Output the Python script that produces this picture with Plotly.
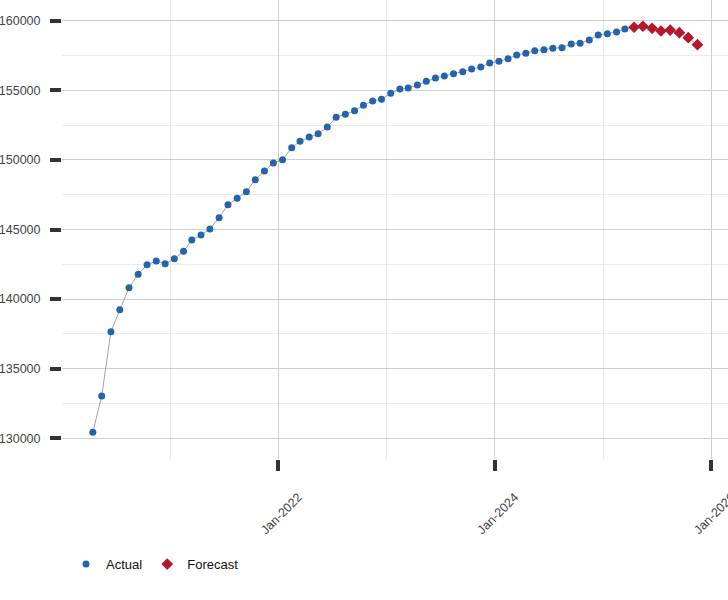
import plotly.graph_objects as go

actual_months = [
    "2020-04", "2020-05", "2020-06", "2020-07", "2020-08", "2020-09", "2020-10", "2020-11", "2020-12",
    "2021-01", "2021-02", "2021-03", "2021-04", "2021-05", "2021-06", "2021-07", "2021-08", "2021-09", "2021-10", "2021-11", "2021-12",
    "2022-01", "2022-02", "2022-03", "2022-04", "2022-05", "2022-06", "2022-07", "2022-08", "2022-09", "2022-10", "2022-11", "2022-12",
    "2023-01", "2023-02", "2023-03", "2023-04", "2023-05", "2023-06", "2023-07", "2023-08", "2023-09", "2023-10", "2023-11", "2023-12",
    "2024-01", "2024-02", "2024-03", "2024-04", "2024-05", "2024-06", "2024-07", "2024-08", "2024-09", "2024-10", "2024-11", "2024-12",
    "2025-01", "2025-02", "2025-03",
]
actual_values = [
    130431, 133040, 137660, 139240, 140820, 141780, 142470, 142740, 142540,
    142900, 143430, 144250, 144600, 145040, 145850, 146780, 147240, 147720, 148580, 149200, 149780,
    150010, 150880, 151340, 151640, 151880, 152360, 153060, 153280, 153530, 153920, 154230, 154350,
    154780, 155090, 155170, 155380, 155650, 155880, 156030, 156190, 156340, 156530, 156670, 156960,
    157080, 157270, 157540, 157660, 157840, 157920, 158020, 158060, 158330, 158380, 158610, 158970,
    159070, 159190, 159400,
]
forecast_months = ["2025-04", "2025-05", "2025-06", "2025-07", "2025-08", "2025-09", "2025-10", "2025-11"]
forecast_values = [159530, 159600, 159450, 159260, 159330, 159140, 158780, 158280]

x_tick_values = ["2022-01-01", "2024-01-01", "2026-01-01"]
x_tick_labels = ["Jan-2022", "Jan-2024", "Jan-2026"]

def mid(m):
    return m + "-15"

ax = [mid(m) for m in actual_months]
fx = [mid(m) for m in forecast_months]

fig = go.Figure()
fig.add_trace(go.Scatter(
    x=ax + fx, y=actual_values + forecast_values, mode="lines",
    line=dict(color="#8a8a8a", width=0.8), showlegend=False, hoverinfo="skip",
))
fig.add_trace(go.Scatter(
    x=ax, y=actual_values, mode="markers", name="Actual",
    marker=dict(color="#2464ad", size=7, symbol="circle"),
))
fig.add_trace(go.Scatter(
    x=fx, y=forecast_values, mode="markers", name="Forecast",
    marker=dict(color="#b5182d", size=9, symbol="diamond"),
))

font = "Liberation Sans, Arial, sans-serif"
fig.update_layout(
    width=728, height=600,
    margin=dict(l=62, r=0, t=0, b=141, autoexpand=False),
    paper_bgcolor="white", plot_bgcolor="white",
    font=dict(family=font, size=13, color="#222"),
    showlegend=True,
    legend=dict(orientation="h", x=0.006, xanchor="left", y=-0.229, yanchor="middle",
                font=dict(size=13, color="#111"), itemsizing="trace"),
    xaxis=dict(
        type="date", range=["2020-01-02", "2026-02-26"], automargin=False,
        tickvals=x_tick_values, ticktext=x_tick_labels, tickangle=-45,
        ticks="outside", ticklen=11, tickwidth=4, tickcolor="#333",
        showgrid=True, gridcolor="#cfcfcf", gridwidth=1,
        minor=dict(dtick="M12", tick0="2021-01-01", showgrid=True, gridcolor="#ebebeb", ticks=""),
        showline=False, zeroline=False,
        tickfont=dict(family=font, size=12.5, color="#444"),
        ticklabelshift=20, ticklabelstandoff=14, ticklabeloverflow="allow",
    ),
    yaxis=dict(
        range=[128513, 161487], dtick=5000, tick0=130000, tickformat="d", automargin=False,
        ticks="outside", ticklen=11, tickwidth=4, tickcolor="#333",
        showgrid=True, gridcolor="#cfcfcf", gridwidth=1,
        minor=dict(dtick=2500, tick0=127500, showgrid=True, gridcolor="#ebebeb", ticks=""),
        showline=False, zeroline=False,
        tickfont=dict(family=font, size=12.5, color="#444"),
        ticklabelstandoff=7, ticklabeloverflow="allow",
    ),
)

fig.write_html("out.html", config={"displayModeBar": False},
               post_script="document.body.style.margin='0';document.body.style.overflow='hidden';")
